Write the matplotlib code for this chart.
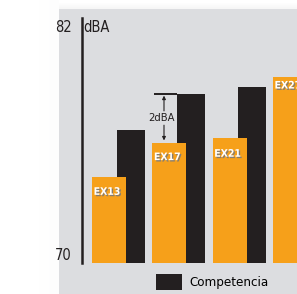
import numpy as np
import matplotlib
matplotlib.use("Agg")
import matplotlib.pyplot as plt
import matplotlib.patheffects as pe

plt.rcParams['font.family'] = ['DejaVu Sans']
plt.rcParams['font.stretch'] = 'condensed'

# data (dBA)
models = ["EX13", "EX17", "EX21", "EX27"]
ours = [74.2, 75.9, 76.1, 79.1]
competition = [76.5, 78.3, 78.6]
y_min, y_max = 70, 82

ORANGE = "#f6a01a"
BLACK = "#231f20"
GRAY = (220 / 255, 221 / 255, 224 / 255)

W, H = 297, 294
fig = plt.figure(figsize=(W / 100, H / 100), dpi=100)

# background: grey panel with soft white fade on the left/top
bg = fig.add_axes([0, 0, 1, 1])
bg.axis("off")
img = np.ones((H, W, 3))
xs = np.arange(W)[None, :]
ys = np.arange(H)[:, None]
fade = np.clip((xs - 38) / 21.0, 0, 1) * 0.06 + 0 * ys
img[:] = 1 - fade[..., None] * (1 - np.array(GRAY))
img[9:, 59:] = GRAY
img[:9, 59:] = 1 - np.clip((ys[:9] - 2) / 7.0, 0, 1)[..., None] * 0.04
bg.imshow(img, aspect="auto", extent=(0, W, H, 0))


def fx(px):
    return px / W


def fy(py):
    return 1 - py / H


ax = fig.add_axes([fx(82), fy(263), fx(297) - fx(82), fy(18) - fy(263)])
ax.set_facecolor("none")
ax.set_xlim(-0.448, 3.118)
ax.set_ylim(y_min, y_max)
for s in ["top", "right", "bottom"]:
    ax.spines[s].set_visible(False)
ax.spines["left"].set_linewidth(1.8)
ax.spines["left"].set_color(BLACK)
ax.set_xticks([])
ax.set_yticks([])

x = np.arange(len(models))
comp_bars = ax.bar(x[:len(competition)] + 0.365, [v - y_min for v in competition],
                   bottom=y_min, width=0.464, color=BLACK, zorder=1, label="Competencia")
ax.bar(x, [v - y_min for v in ours], bottom=y_min, width=0.564, color=ORANGE, zorder=2)

# label offset below bar top, in points
label_dy = [-10.5, -10.5, -11, -6]
shadow = [pe.withSimplePatchShadow(offset=(1, -1), shadow_rgbFace="#7a7a7a", alpha=0.9)]
for i, (name, v) in enumerate(zip(models, ours)):
    ax.annotate(name, xy=(i - 0.282, v), xytext=(1.2, label_dy[i]), textcoords="offset points",
                ha="left", va="center", color="white", fontsize=7.5, fontweight="semibold",
                path_effects=shadow, zorder=3, annotation_clip=False)

# 2 dBA difference marker
top, low = competition[1], ours[1]
mid = (top + low) / 2
ax_x = 0.912
ax.plot([0.75, 1.365 - 0.232], [top, top], color=BLACK, lw=1.4, solid_capstyle="butt")
ax.text(ax_x - 0.04, mid, "2dBA", ha="center", va="center", fontsize=8, color=BLACK)
arrow = dict(arrowstyle="-|>", color=BLACK, lw=0.8, mutation_scale=5, shrinkA=0, shrinkB=1.5)
ax.annotate("", xy=(ax_x, top), xytext=(ax_x, mid + 0.35), arrowprops=arrow)
ax.annotate("", xy=(ax_x, low), xytext=(ax_x, mid - 0.35), arrowprops=arrow)

# axis labels
fig.text(fx(72), fy(27), str(y_max), ha="right", va="center", fontsize=10.5, color=BLACK)
fig.text(fx(83), fy(27), "dBA", ha="left", va="center", fontsize=10.5, color=BLACK)
fig.text(fx(72), fy(256), str(y_min), ha="right", va="center", fontsize=10.5, color=BLACK)

fig.legend(handles=[comp_bars], labels=["Competencia"], loc="center left",
           bbox_to_anchor=(fx(156), fy(282)), frameon=False, fontsize=9.5,
           borderpad=0, borderaxespad=0, handlelength=2.0, handleheight=1.55,
           handletextpad=0.55)

fig.savefig("out.png", dpi=100)
